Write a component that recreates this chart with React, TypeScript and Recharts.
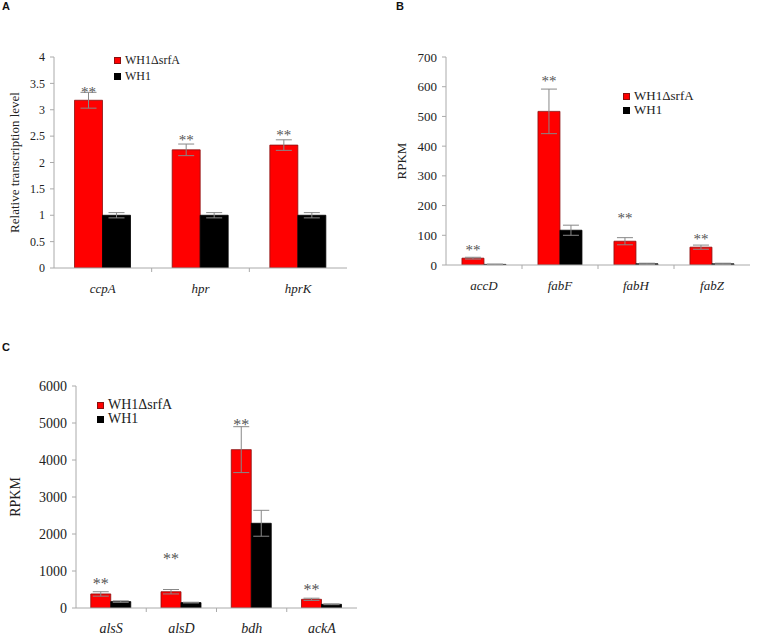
import React from 'react';
import { BarChart, Bar, XAxis, YAxis, ErrorBar, LabelList, Label } from 'recharts';

const SERIES_MUT = 'WH1ΔsrfA';
const SERIES_WT = 'WH1';

// Panel A
const genesA = ['ccpA', 'hpr', 'hprK'];
const mutA = [3.18, 2.24, 2.33];
const mutErrA = [0.15, 0.11, 0.1];
const wtA = [1, 1, 1];
const wtErrA = [0.05, 0.05, 0.05];
const starA = [3.37, 2.46, 2.55];
const ticksA = [0, 0.5, 1, 1.5, 2, 2.5, 3, 3.5, 4];

// Panel B
const genesB = ['accD', 'fabF', 'fabH', 'fabZ'];
const mutB = [23, 517, 80, 60];
const mutErrB = [3, 75, 12, 7];
const wtB = [2, 117, 4, 4];
const wtErrB = [1, 17, 2, 2];
const starB = [57, 626, 165, 94];
const ticksB = [0, 100, 200, 300, 400, 500, 600, 700];

// Panel C
const genesC = ['alsS', 'alsD', 'bdh', 'ackA'];
const mutC = [380, 440, 4280, 235];
const mutErrC = [60, 60, 620, 30];
const wtC = [173, 146, 2290, 100];
const wtErrC = [20, 10, 350, 10];
const starC = [700, 1380, 5000, 540];
const ticksC = [0, 1000, 2000, 3000, 4000, 5000, 6000];

const FONT = '"Liberation Serif", "Times New Roman", serif';
const AXIS = '#aaaaaa';

function build(genes: string[], mut: number[], mutErr: number[], wt: number[], wtErr: number[], star: number[]) {
  return genes.map((g, i) => ({ gene: g, mut: mut[i], mutErr: mutErr[i], wt: wt[i], wtErr: wtErr[i], star: star[i] }));
}

type PanelProps = {
  data: any[];
  ticks: number[];
  width: number;
  height: number;
  margin: { top: number; right: number; bottom: number; left: number };
  yAxisWidth: number;
  fontSize: number;
  catFont: number;
  starFont: number;
  yLabel: string;
  yLabelX: number;
  yLabelFont: number;
};

function Panel(p: PanelProps) {
  const { data, ticks } = p;
  const n = data.length;
  const CatTick = (props: any) => {
    const { x, y, payload, index } = props;
    const off = payload && typeof payload.offset === 'number' ? payload.offset : 0;
    return (
      <g>
        <text x={x} y={y + 20} dy="0.35em" textAnchor="middle" fontStyle="italic" style={{ fontFamily: FONT }} fontSize={p.catFont} fill="#222">
          {payload.value}
        </text>
        {index < n - 1 && off > 0 ? (
          <line x1={x + off} x2={x + off} y1={y} y2={y + 4} stroke={AXIS} strokeWidth={1} />
        ) : null}
      </g>
    );
  };
  const NumTick = (props: any) => {
    const { x, y, payload } = props;
    return (
      <text x={x} y={y} dy="0.35em" textAnchor="end" style={{ fontFamily: FONT }} fontSize={p.fontSize} fill="#222">
        {payload.value}
      </text>
    );
  };
  const StarLabel = (props: any) => {
    const { x, y, width, height, index } = props;
    const row = data[index];
    if (!row || !row.mut) return null;
    const ppu = height / row.mut;
    const sy = y + height - row.star * ppu;
    return (
      <text x={x + width / 2} y={sy} dy={p.starFont * 0.45} textAnchor="middle" style={{ fontFamily: FONT }} fontSize={p.starFont} fill="#555">
        **
      </text>
    );
  };
  const YLab = (props: any) => {
    const vb = props.viewBox || {};
    const cx = (vb.x || 0) + p.yLabelX;
    const cy = (vb.y || 0) + (vb.height || 0) / 2;
    return (
      <text x={cx} y={cy} textAnchor="middle" dominantBaseline="central" transform={`rotate(-90, ${cx}, ${cy})`} style={{ fontFamily: FONT }} fontSize={p.yLabelFont} fill="#222">
        {p.yLabel}
      </text>
    );
  };
  return (
    <BarChart width={p.width} height={p.height} data={data} margin={p.margin} barCategoryGap="21%" barGap={0} style={{ fontFamily: FONT }}>
      <XAxis
        dataKey="gene"
        height={30}
        axisLine={{ stroke: AXIS }}
        tickLine={false}
        tickSize={0}
        tickMargin={0}
        interval={0}
        tick={CatTick}
      />
      <YAxis
        width={p.yAxisWidth}
        domain={[ticks[0], ticks[ticks.length - 1]]}
        ticks={ticks}
        interval={0}
        allowDataOverflow
        axisLine={{ stroke: AXIS }}
        tickLine={{ stroke: AXIS }}
        tickSize={4}
        tickMargin={5}
        tick={NumTick}
      >
        <Label content={YLab} />
      </YAxis>
      <Bar dataKey="mut" name={SERIES_MUT} fill="#ff0000" stroke="#8a1010" strokeWidth={0.8} isAnimationActive={false}>
        <ErrorBar dataKey="mutErr" width={8} stroke="#888" strokeWidth={1} direction="y" />
        <LabelList dataKey="star" content={StarLabel} />
      </Bar>
      <Bar dataKey="wt" name={SERIES_WT} fill="#000000" stroke="#000" strokeWidth={0.8} isAnimationActive={false}>
        <ErrorBar dataKey="wtErr" width={8} stroke="#888" strokeWidth={1} direction="y" />
      </Bar>
    </BarChart>
  );
}

function LegendBox({ left, top, fontSize, gap }: { left: number; top: number; fontSize: number; gap: number }) {
  const items = [
    { name: SERIES_MUT, color: '#ff0000', border: '#8a1010' },
    { name: SERIES_WT, color: '#000000', border: '#000' },
  ];
  return (
    <div style={{ position: 'absolute', left, top, fontFamily: FONT, fontSize, color: '#222' }}>
      {items.map((it) => (
        <div key={it.name} style={{ display: 'flex', alignItems: 'center', height: gap, whiteSpace: 'nowrap' }}>
          <span style={{ display: 'inline-block', width: 7, height: 7, background: it.color, border: `1px solid ${it.border}`, marginRight: 4, boxSizing: 'border-box' }} />
          <span>{it.name}</span>
        </div>
      ))}
    </div>
  );
}

const letterStyle: React.CSSProperties = {
  position: 'absolute',
  fontFamily: '"Liberation Sans", Arial, sans-serif',
  fontWeight: 'bold',
  fontSize: 11,
  lineHeight: '11px',
  color: '#111',
};

export default function App() {
  const dataA = build(genesA, mutA, mutErrA, wtA, wtErrA, starA);
  const dataB = build(genesB, mutB, mutErrB, wtB, wtErrB, starB);
  const dataC = build(genesC, mutC, mutErrC, wtC, wtErrC, starC);
  return (
    <div style={{ position: 'absolute', left: 0, top: 0, width: 758, height: 641, background: '#fff', overflow: 'hidden', fontFamily: FONT }}>
      <div style={{ ...letterStyle, left: 2, top: 1 }}>A</div>
      <div style={{ ...letterStyle, left: 396, top: 1 }}>B</div>
      <div style={{ ...letterStyle, left: 2, top: 342 }}>C</div>

      <div style={{ position: 'absolute', left: 0, top: 0 }}>
        <Panel
          data={dataA}
          ticks={ticksA}
          width={370}
          height={300}
          margin={{ top: 57, right: 23, bottom: 2, left: 0 }}
          yAxisWidth={54}
          fontSize={12}
          catFont={13}
          starFont={15}
          yLabel="Relative transcription level"
          yLabelX={14}
          yLabelFont={13}
        />
      </div>
      <LegendBox left={114} top={52} fontSize={12} gap={16} />

      <div style={{ position: 'absolute', left: 380, top: 0 }}>
        <Panel
          data={dataB}
          ticks={ticksB}
          width={378}
          height={300}
          margin={{ top: 57, right: 8, bottom: 5, left: 0 }}
          yAxisWidth={66}
          fontSize={13}
          catFont={13}
          starFont={15}
          yLabel="RPKM"
          yLabelX={21}
          yLabelFont={13}
        />
      </div>
      <LegendBox left={623} top={89} fontSize={13} gap={14} />

      <div style={{ position: 'absolute', left: 0, top: 330 }}>
        <Panel
          data={dataC}
          ticks={ticksC}
          width={380}
          height={311}
          margin={{ top: 56, right: 23, bottom: 3, left: 0 }}
          yAxisWidth={76}
          fontSize={14}
          catFont={14}
          starFont={16}
          yLabel="RPKM"
          yLabelX={15}
          yLabelFont={14}
        />
      </div>
      <LegendBox left={97} top={398} fontSize={14} gap={14} />
    </div>
  );
}
